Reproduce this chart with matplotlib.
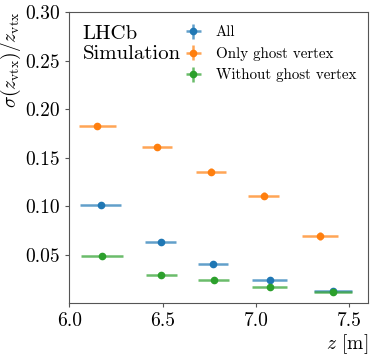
import matplotlib
matplotlib.use('Agg')
import matplotlib.pyplot as plt

plt.rcParams['font.family'] = 'serif'
plt.rcParams['font.serif'] = ['cmr10']
plt.rcParams['mathtext.fontset'] = 'cm'
plt.rcParams['axes.formatter.use_mathtext'] = True
plt.rcParams['axes.unicode_minus'] = False

# All
z_all = [6.168, 6.489, 6.771, 7.073, 7.412]
zerr_all = [0.11, 0.081, 0.081, 0.093, 0.103]
res_all = [0.1014, 0.0637, 0.0407, 0.0243, 0.0133]
reserr_all = [0.0008, 0.0010, 0.0010, 0.0008, 0.0006]

# Only ghost vertex
z_ghost = [6.151, 6.471, 6.760, 7.042, 7.344]
zerr_ghost = [0.10, 0.082, 0.080, 0.082, 0.095]
res_ghost = [0.1832, 0.1614, 0.1357, 0.1110, 0.0695]
reserr_ghost = [0.0010, 0.0032, 0.0038, 0.0038, 0.0040]

# Without ghost vertex
z_noghost = [6.175, 6.493, 6.773, 7.073, 7.412]
zerr_noghost = [0.113, 0.083, 0.081, 0.093, 0.103]
res_noghost = [0.0493, 0.0294, 0.0246, 0.0168, 0.0122]
reserr_noghost = [0.0006, 0.0006, 0.0006, 0.0006, 0.0006]

fig, ax = plt.subplots(figsize=(3.74, 3.56), dpi=100)
fig.subplots_adjust(left=0.185, right=0.984, top=0.966, bottom=0.15)

kw = dict(fmt='o', ms=4.5, elinewidth=1.8, capsize=0)
eb = ax.errorbar(z_all, res_all, xerr=zerr_all, yerr=reserr_all, color='C0', label='All', **kw)
eb2 = ax.errorbar(z_ghost, res_ghost, xerr=zerr_ghost, yerr=reserr_ghost, color='C1', label='Only ghost vertex', **kw)
eb3 = ax.errorbar(z_noghost, res_noghost, xerr=zerr_noghost, yerr=reserr_noghost, color='C2', label='Without ghost vertex', **kw)
for e in (eb, eb2, eb3):
    for lc in e[2]:
        lc.set_alpha(0.7)

ax.set_xlim(6.0, 7.6)
ax.set_ylim(0.001, 0.30)
ax.set_xticks([6.0, 6.5, 7.0, 7.5])
ax.set_yticks([0.05, 0.10, 0.15, 0.20, 0.25, 0.30])
ax.set_xticklabels(['6.0', '6.5', '7.0', '7.5'])
ax.set_yticklabels(['0.05', '0.10', '0.15', '0.20', '0.25', '0.30'])
ax.tick_params(labelsize=14, length=3, color='#555555')
for s in ax.spines.values():
    s.set_color('#555555')

ax.set_ylabel(r'$\sigma(z_{\rm vtx})/z_{\rm vtx}$', fontsize=14, loc='top', labelpad=2)
ax.set_xlabel(r'$z$ [m]', fontsize=14, loc='right', labelpad=2)

ax.text(0.045, 0.955, 'LHCb\nSimulation', transform=ax.transAxes, fontsize=15,
        va='top', ha='left', linespacing=1.15)
ax.legend(loc='upper left', bbox_to_anchor=(0.34, 1.0), frameon=False, fontsize=10.8,
          handlelength=1.2, handletextpad=0.9, labelspacing=0.5)

fig.savefig('out.png', dpi=100)
